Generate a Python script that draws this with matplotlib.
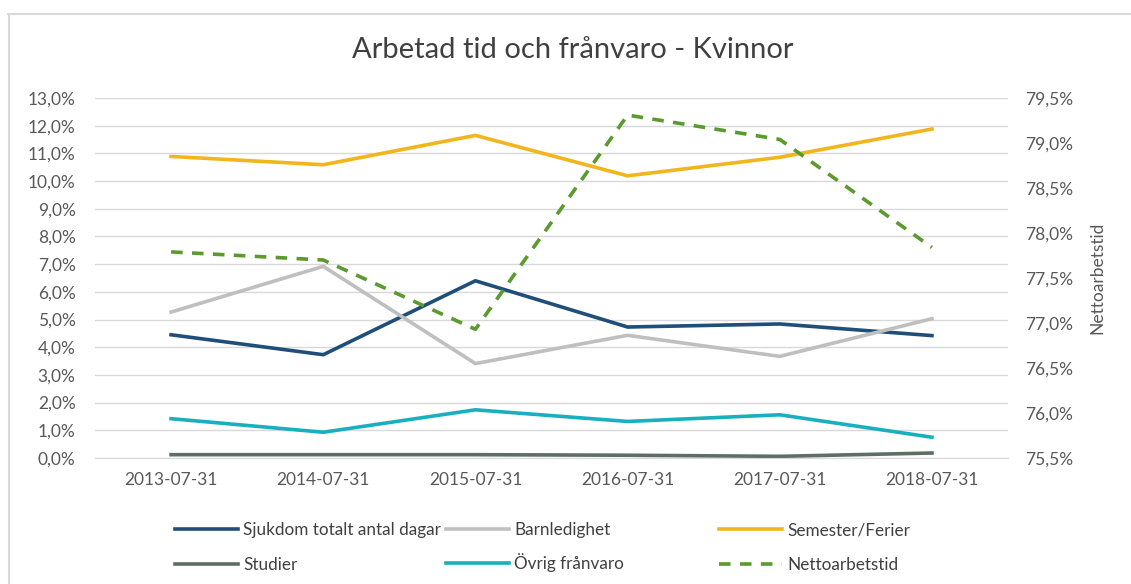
import matplotlib
matplotlib.use("Agg")
import matplotlib.pyplot as plt
from matplotlib.ticker import FuncFormatter
from matplotlib.lines import Line2D

plt.rcParams['font.family'] = ['Lato', 'DejaVu Sans']

categories = ["2013-07-31", "2014-07-31", "2015-07-31", "2016-07-31", "2017-07-31", "2018-07-31"]
sjukdom = [4.45, 3.73, 6.40, 4.73, 4.84, 4.42]
barnledighet = [5.27, 6.92, 3.41, 4.43, 3.67, 5.03]
semester = [10.89, 10.59, 11.65, 10.19, 10.86, 11.88]
studier = [0.12, 0.12, 0.12, 0.10, 0.06, 0.18]
ovrig = [1.42, 0.93, 1.74, 1.32, 1.56, 0.75]
netto = [77.79, 77.70, 76.93, 79.31, 79.04, 77.84]

W, H = 1131, 584
fig = plt.figure(figsize=(W / 100, H / 100), dpi=100)

# chart border
fig.add_artist(Line2D([8 / W, 1.0], [1 - 14 / H, 1 - 14 / H], color='#D9D9D9', lw=1.5))
fig.add_artist(Line2D([9 / W, 9 / W], [0, 1 - 14 / H], color='#D9D9D9', lw=1.5))

left, right, top, bottom = 95, 1008, 98, 458
ax = fig.add_axes([left / W, 1 - bottom / H, (right - left) / W, (bottom - top) / H])
ax2 = ax.twinx()

x = list(range(len(categories)))
lw = 2.6
l1, = ax.plot(x, sjukdom, color='#1F4E79', lw=lw, label='Sjukdom totalt antal dagar')
l2, = ax.plot(x, barnledighet, color='#BFBFBF', lw=lw, label='Barnledighet')
l3, = ax.plot(x, semester, color='#F2B51B', lw=lw, label='Semester/Ferier')
l4, = ax.plot(x, studier, color='#5E6E66', lw=lw, label='Studier')
l5, = ax.plot(x, ovrig, color='#18AFBE', lw=lw, label='Övrig frånvaro')
l6, = ax2.plot(x, netto, color='#5A9A2E', lw=lw, ls=(0, (3.2, 2.6)), label='Nettoarbetstid')

ax.set_xlim(-0.5, 5.5)
ax.set_ylim(0, 13)
ax.set_yticks([i for i in range(14)])
ax2.set_ylim(75.5, 79.5)
ax2.set_yticks([75.5 + 0.5 * i for i in range(9)])

fmt = lambda v, p: f"{v:.1f}%".replace('.', ',')
ax.yaxis.set_major_formatter(FuncFormatter(fmt))
ax2.yaxis.set_major_formatter(FuncFormatter(fmt))
ax.set_xticks(x)
ax.set_xticklabels(categories)

ax.grid(axis='y', color='#D9D9D9', lw=1)
ax.set_axisbelow(True)
for a in (ax, ax2):
    for s in a.spines.values():
        s.set_visible(False)
    a.tick_params(length=0, colors='#595959', labelsize=12.5)
ax.tick_params(axis='y', pad=14)
ax.tick_params(axis='x', pad=10)
ax2.tick_params(axis='y', pad=12)
ax.spines['bottom'].set_visible(True)
ax.spines['bottom'].set_color('#D9D9D9')

ax2.set_ylabel('Nettoarbetstid', color='#595959', fontsize=12.5, labelpad=12)

fig.text(573 / W, 1 - 50 / H, 'Arbetad tid och frånvaro - Kvinnor', ha='center', va='center',
         fontsize=21, color='#404040')

leg_kw = dict(frameon=False, fontsize=12.3, labelcolor='#404040', handlelength=3.7,
              handletextpad=0.3, loc='upper left', borderpad=0, borderaxespad=0)
fig.legend([l1, l4], [l1.get_label(), l4.get_label()], bbox_to_anchor=(175 / W, 1 - 522 / H),
           labelspacing=1.1, **leg_kw)
fig.legend([l2, l5], [l2.get_label(), l5.get_label()], bbox_to_anchor=(446 / W, 1 - 522 / H),
           labelspacing=0.87, **leg_kw)
fig.legend([l3, l6], [l3.get_label(), l6.get_label()], bbox_to_anchor=(719 / W, 1 - 522 / H),
           labelspacing=1.1, **leg_kw)

fig.savefig('out.png', dpi=100)
